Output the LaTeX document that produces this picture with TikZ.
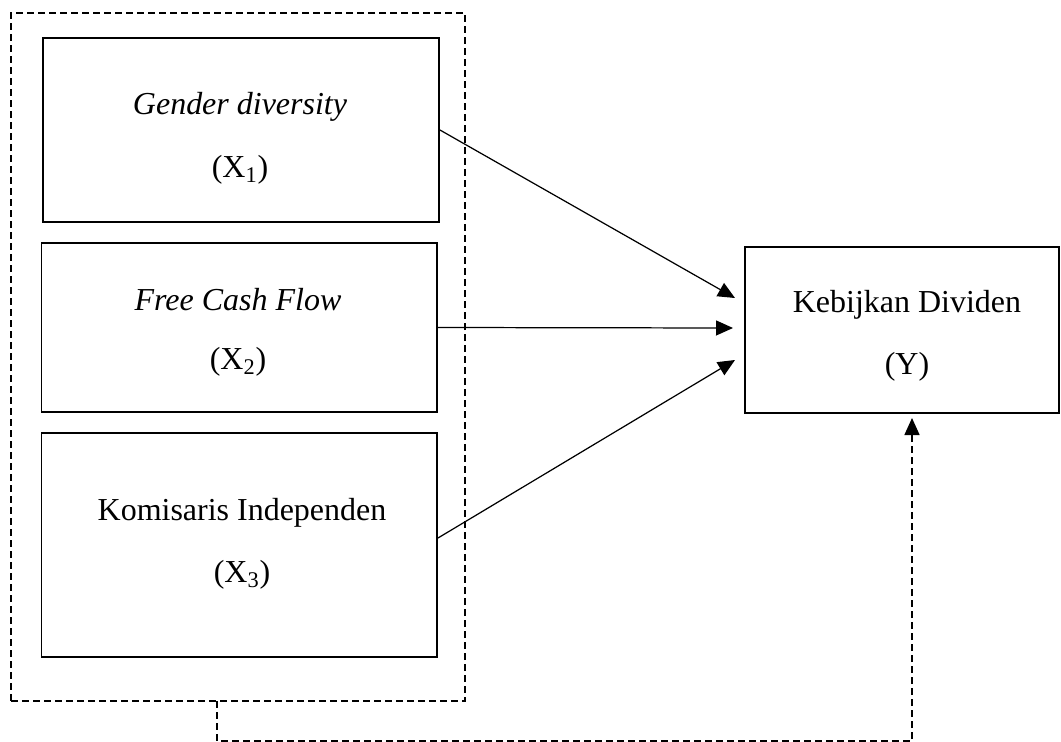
\documentclass[tikz,border=0pt]{standalone}
\usepackage{fontspec}
\setmainfont{Liberation Serif}
\usetikzlibrary{arrows.meta}
\tikzset{varbox/.style={draw, line width=1.1pt, inner sep=0pt},
 grpbox/.style={draw, line width=0.85pt, dash pattern=on 0.14cm off 0.08cm, inner sep=0pt},
 txt/.style={font=\fontsize{18.2}{21}\selectfont, inner sep=0pt},
 arr/.style={line width=0.7pt, -{Triangle[length=0.34cm, width=0.3cm]}},
 dasharr/.style={line width=0.85pt, dash pattern=on 0.14cm off 0.08cm, -{Triangle[length=0.34cm, width=0.3cm]}},
 }

\begin{document}
\begin{tikzpicture}
        \useasboundingbox (0, 0) rectangle (21.22, -14.84);
        % kotak variabel independen
        \node [grpbox, minimum width=9.08cm, minimum height=13.76cm] (grp) at (4.76, -7.14) {};
        \node [varbox, minimum width=7.92cm, minimum height=3.68cm] (x1) at (4.82, -2.6) {};
        \node [varbox, minimum width=7.91cm, minimum height=3.38cm] (x2) at (4.785, -6.55) {};
        \node [varbox, minimum width=7.91cm, minimum height=4.48cm] (x3) at (4.785, -10.9) {};
        \node [varbox, minimum width=6.28cm, minimum height=3.32cm] (y) at (18.04, -6.6) {};
        % teks
        \node [txt] (x1a) at (4.8, -2.14) {\textit{Gender diversity}};
        \node [txt] (x1b) at (4.8, -3.4) {(X\textsubscript{1})};
        \node [txt] (x2a) at (4.76, -6.0) {\textit{Free Cash Flow}};
        \node [txt] (x2b) at (4.76, -7.24) {(X\textsubscript{2})};
        \node [txt] (x3a) at (4.84, -10.26) {Komisaris Independen};
        \node [txt] (x3b) at (4.84, -11.5) {(X\textsubscript{3})};
        \node [txt] (ya) at (18.14, -6.1) {Kebijkan Dividen};
        \node [txt] (yb) at (18.14, -7.34) {(Y)};
        % panah
        \coordinate (t1) at (14.7, -5.96);
        \coordinate (t2) at (14.66, -6.56);
        \coordinate (t3) at (14.7, -7.2);
        \coordinate (s3) at (8.76, -10.76);
        \draw [arr] (x1.east) -- (t1);
        \draw [arr] (x2.east) -- (t2);
        \draw [arr] (s3) -- (t3);
        \coordinate (d0) at (4.34, -14.02);
        \coordinate (d1) at (18.24, -8.36);
        \draw [dasharr] (d0) -- ++(0, -0.8) -| (d1);
    \end{tikzpicture}
\end{document}
